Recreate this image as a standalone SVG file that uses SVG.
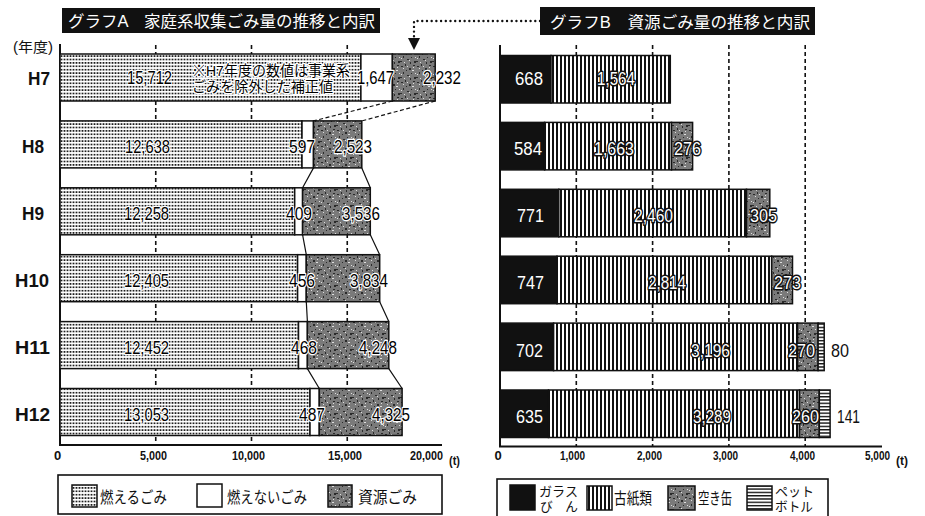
<svg xmlns="http://www.w3.org/2000/svg" width="925" height="516" viewBox="0 0 925 516">
<defs>
<pattern id="dots" width="3" height="3.4" patternUnits="userSpaceOnUse"><rect width="3" height="3.4" fill="#fff"/><rect x="0.6" y="0.9" width="1.8" height="1.6" fill="#111"/></pattern>
<pattern id="grain" width="16" height="16" patternUnits="userSpaceOnUse"><rect width="16" height="16" fill="#7a7a7a"/><g fill="#2a2a2a"><rect x="1" y="2" width="2" height="1"/><rect x="5" y="0" width="1" height="2"/><rect x="9" y="4" width="2" height="2"/><rect x="13" y="1" width="2" height="1"/><rect x="3" y="8" width="1" height="2"/><rect x="7" y="11" width="2" height="1"/><rect x="11" y="9" width="1" height="1"/><rect x="14" y="13" width="2" height="2"/><rect x="0" y="13" width="2" height="1"/><rect x="6" y="6" width="1" height="1"/><rect x="10" y="14" width="1" height="2"/></g><g fill="#dedede"><rect x="3" y="4" width="1" height="1"/><rect x="7" y="2" width="1" height="1"/><rect x="12" y="6" width="2" height="1"/><rect x="1" y="10" width="1" height="1"/><rect x="9" y="12" width="1" height="1"/><rect x="15" y="9" width="1" height="1"/><rect x="4" y="14" width="1" height="1"/><rect x="13" y="3" width="1" height="1"/></g></pattern>
<pattern id="vstripe" width="4" height="4" patternUnits="userSpaceOnUse"><rect width="4" height="4" fill="#fff"/><rect width="2" height="4" fill="#111"/></pattern>
<pattern id="hstripe" width="4" height="3.3" patternUnits="userSpaceOnUse"><rect width="4" height="3.3" fill="#fff"/><rect width="4" height="1.4" fill="#111"/></pattern>
<marker id="arrow" markerWidth="12" markerHeight="12" refX="2" refY="6" orient="auto" markerUnits="userSpaceOnUse" viewBox="0 0 12 12"><path d="M0,0 L12,6 L0,12 Z" fill="#111"/></marker>
</defs>
<style>
text{font-family:"Liberation Sans","Noto Sans CJK JP",sans-serif;}
.bar{stroke:#111;stroke-width:1.5;}
.comb{fill:url(#dots);}
.non{fill:#fff;}
.res{fill:url(#grain);}
.glass{fill:#111;}
.paper{fill:url(#vstripe);}
.pet{fill:url(#hstripe);}
.grid{stroke:#111;stroke-width:1.6;stroke-dasharray:4 3;fill:none;}
.axis{stroke:#111;stroke-width:2;fill:none;}
.link{stroke:#111;stroke-width:1.2;fill:none;}
.lblA{font-size:19px;fill:#000;stroke:#fff;stroke-width:2.5;paint-order:stroke;stroke-linejoin:round;}
.lblB{font-size:18px;fill:#fff;stroke:#111;stroke-width:3;paint-order:stroke;stroke-linejoin:round;}
.plain{font-size:19px;fill:#111;}
.year{font-size:19px;font-weight:bold;fill:#111;}
.tick{font-size:13px;font-weight:bold;fill:#111;}
.unit{font-size:12px;font-weight:bold;fill:#111;}
.title{font-size:16px;fill:#fff;}
.leg{font-size:16px;fill:#111;}
.legs{font-size:13px;fill:#111;}
.note{font-size:14.5px;fill:#000;stroke:#fff;stroke-width:2.5;paint-order:stroke;stroke-linejoin:round;}
</style>
<rect width="925" height="516" fill="#fff"/>

<g id="title-a"><rect x="62" y="8" width="318" height="25" fill="#111"/><text class="title" x="68" y="27" textLength="307" lengthAdjust="spacingAndGlyphs">グラフA　家庭系収集ごみ量の推移と内訳</text></g>
<g id="title-b"><rect x="540" y="7" width="275" height="28" fill="#111"/><text class="title" x="550" y="28" textLength="260" lengthAdjust="spacingAndGlyphs">グラフB　資源ごみ量の推移と内訳</text></g>

<g id="axes-a">
<line class="grid" x1="155.75" y1="45" x2="155.75" y2="445"/>
<line class="grid" x1="251.5" y1="45" x2="251.5" y2="445"/>
<line class="grid" x1="347.25" y1="45" x2="347.25" y2="445"/>
<line class="axis" x1="60" y1="44" x2="60" y2="445"/>
<line class="axis" x1="59" y1="445" x2="442" y2="445"/>
<text class="tick" x="57.5" y="460" text-anchor="middle">0</text>
<text class="tick" x="140" y="460" textLength="27" lengthAdjust="spacingAndGlyphs">5,000</text>
<text class="tick" x="232" y="460" textLength="33" lengthAdjust="spacingAndGlyphs">10,000</text>
<text class="tick" x="328" y="460" textLength="34" lengthAdjust="spacingAndGlyphs">15,000</text>
<text class="tick" x="410" y="460" font-size="11.5" textLength="33" lengthAdjust="spacingAndGlyphs">20,000</text>
<text class="unit" x="449" y="465" textLength="11" lengthAdjust="spacingAndGlyphs">(t)</text>
<text x="13" y="52" font-size="14" fill="#111" textLength="40" lengthAdjust="spacingAndGlyphs">(年度)</text>
</g>

<g id="axes-b">
<line class="grid" x1="576.3" y1="45" x2="576.3" y2="446.5"/>
<line class="grid" x1="652.6" y1="45" x2="652.6" y2="446.5"/>
<line class="grid" x1="728.9" y1="45" x2="728.9" y2="446.5"/>
<line class="grid" x1="805.2" y1="45" x2="805.2" y2="446.5"/>
<line class="axis" x1="500" y1="45" x2="500" y2="446.5"/>
<line class="axis" x1="499" y1="446.5" x2="882" y2="446.5"/>
<text class="tick" x="498" y="460" text-anchor="middle">0</text>
<text class="tick" x="560" y="460" textLength="25" lengthAdjust="spacingAndGlyphs">1,000</text>
<text class="tick" x="637" y="460" textLength="25" lengthAdjust="spacingAndGlyphs">2,000</text>
<text class="tick" x="713" y="460" textLength="25" lengthAdjust="spacingAndGlyphs">3,000</text>
<text class="tick" x="790" y="460" textLength="25" lengthAdjust="spacingAndGlyphs">4,000</text>
<text class="tick" x="865" y="460" textLength="25" lengthAdjust="spacingAndGlyphs">5,000</text>
<text class="unit" x="896" y="465" textLength="12" lengthAdjust="spacingAndGlyphs">(t)</text>
</g>

<g id="connectors">
<path class="link" stroke-dasharray="4 2.5" d="M392.4,101 L313.5,120.9 M435.2,101 L361.8,120.9"/>
<path class="link" d="M313.5,167.9 L302.6,187.8 M361.8,167.9 L370.3,187.8"/>
<path class="link" d="M302.6,234.8 L306.3,254.7 M370.3,234.8 L379.7,254.7"/>
<path class="link" d="M306.3,301.7 L307.4,321.6 M379.7,301.7 L388.8,321.6"/>
<path class="link" d="M307.4,368.6 L319.3,388.5 M388.8,368.6 L402.1,388.5"/>
<path d="M540,21 H414 V40" fill="none" stroke="#111" stroke-width="2.4" stroke-dasharray="0.01 4.7" stroke-linecap="round" marker-end="url(#arrow)"/>
</g>

<g id="a-h7">
<rect class="bar comb" x="60" y="54" width="300.9" height="47"/>
<rect class="bar non" x="360.9" y="54" width="31.5" height="47"/>
<rect class="bar res" x="392.4" y="54" width="42.8" height="47"/>
<text class="year" x="28" y="85" textLength="22" lengthAdjust="spacingAndGlyphs">H7</text>
<text class="lblA" x="127" y="84" textLength="45" lengthAdjust="spacingAndGlyphs">15,712</text>
<text class="note" x="192" y="76" textLength="158" lengthAdjust="spacingAndGlyphs">※H7年度の数値は事業系</text>
<text class="note" x="192" y="92" textLength="141" lengthAdjust="spacingAndGlyphs">ごみを除外した補正値</text>
<text class="lblA" x="357" y="84" textLength="37" lengthAdjust="spacingAndGlyphs">1,647</text>
<text class="lblA" x="423" y="84" textLength="38" lengthAdjust="spacingAndGlyphs">2,232</text>
</g>
<g id="a-h8">
<rect class="bar comb" x="60" y="120.9" width="242" height="47"/>
<rect class="bar non" x="302" y="120.9" width="11.5" height="47"/>
<rect class="bar res" x="313.5" y="120.9" width="48.3" height="47"/>
<text class="year" x="22" y="153" textLength="22" lengthAdjust="spacingAndGlyphs">H8</text>
<text class="lblA" x="125" y="152.5" textLength="45" lengthAdjust="spacingAndGlyphs">12,638</text>
<text class="lblA" x="289" y="152.5" textLength="26" lengthAdjust="spacingAndGlyphs">597</text>
<text class="lblA" x="334" y="152.5" textLength="38" lengthAdjust="spacingAndGlyphs">2,523</text>
</g>
<g id="a-h9">
<rect class="bar comb" x="60" y="187.8" width="234.7" height="47"/>
<rect class="bar non" x="294.7" y="187.8" width="7.9" height="47"/>
<rect class="bar res" x="302.6" y="187.8" width="67.7" height="47"/>
<text class="year" x="22" y="219.5" textLength="22" lengthAdjust="spacingAndGlyphs">H9</text>
<text class="lblA" x="124" y="219.5" textLength="45" lengthAdjust="spacingAndGlyphs">12,258</text>
<text class="lblA" x="286" y="219.5" textLength="26" lengthAdjust="spacingAndGlyphs">409</text>
<text class="lblA" x="342" y="219.5" textLength="38" lengthAdjust="spacingAndGlyphs">3,536</text>
</g>
<g id="a-h10">
<rect class="bar comb" x="60" y="254.7" width="237.6" height="47"/>
<rect class="bar non" x="297.6" y="254.7" width="8.7" height="47"/>
<rect class="bar res" x="306.3" y="254.7" width="73.4" height="47"/>
<text class="year" x="15" y="286.5" textLength="34" lengthAdjust="spacingAndGlyphs">H10</text>
<text class="lblA" x="124" y="286.5" textLength="45" lengthAdjust="spacingAndGlyphs">12,405</text>
<text class="lblA" x="289" y="286.5" textLength="26" lengthAdjust="spacingAndGlyphs">456</text>
<text class="lblA" x="350" y="286.5" textLength="38" lengthAdjust="spacingAndGlyphs">3,834</text>
</g>
<g id="a-h11">
<rect class="bar comb" x="60" y="321.6" width="238.5" height="47"/>
<rect class="bar non" x="298.5" y="321.6" width="8.9" height="47"/>
<rect class="bar res" x="307.4" y="321.6" width="81.4" height="47"/>
<text class="year" x="15" y="353.5" textLength="35" lengthAdjust="spacingAndGlyphs">H11</text>
<text class="lblA" x="124" y="353.5" textLength="45" lengthAdjust="spacingAndGlyphs">12,452</text>
<text class="lblA" x="291" y="353.5" textLength="26" lengthAdjust="spacingAndGlyphs">468</text>
<text class="lblA" x="359" y="353.5" textLength="38" lengthAdjust="spacingAndGlyphs">4,248</text>
</g>
<g id="a-h12">
<rect class="bar comb" x="60" y="388.5" width="250" height="47"/>
<rect class="bar non" x="310" y="388.5" width="9.3" height="47"/>
<rect class="bar res" x="319.3" y="388.5" width="82.8" height="47"/>
<text class="year" x="15" y="420.5" textLength="35" lengthAdjust="spacingAndGlyphs">H12</text>
<text class="lblA" x="124" y="420.5" textLength="45" lengthAdjust="spacingAndGlyphs">13,053</text>
<text class="lblA" x="299" y="420.5" textLength="26" lengthAdjust="spacingAndGlyphs">487</text>
<text class="lblA" x="372" y="420.5" textLength="38" lengthAdjust="spacingAndGlyphs">4,325</text>
</g>

<g id="b-h7">
<rect class="bar glass" x="500" y="55.5" width="51" height="47.5"/>
<rect class="bar paper" x="551" y="55.5" width="119.3" height="47.5"/>
<text class="lblB" x="515" y="85" textLength="28" lengthAdjust="spacingAndGlyphs">668</text>
<text class="lblB" x="597" y="85" textLength="38" lengthAdjust="spacingAndGlyphs">1,564</text>
</g>
<g id="b-h8">
<rect class="bar glass" x="500" y="122.4" width="44.6" height="47.5"/>
<rect class="bar paper" x="544.6" y="122.4" width="126.9" height="47.5"/>
<rect class="bar res" x="671.5" y="122.4" width="21.1" height="47.5"/>
<text class="lblB" x="514" y="155" textLength="28" lengthAdjust="spacingAndGlyphs">584</text>
<text class="lblB" x="594" y="155" textLength="40" lengthAdjust="spacingAndGlyphs">1,663</text>
<text class="lblB" x="674" y="155" textLength="27" lengthAdjust="spacingAndGlyphs">276</text>
</g>
<g id="b-h9">
<rect class="bar glass" x="500" y="189.3" width="58.8" height="47.5"/>
<rect class="bar paper" x="558.8" y="189.3" width="187.7" height="47.5"/>
<rect class="bar res" x="746.5" y="189.3" width="23.3" height="47.5"/>
<text class="lblB" x="517" y="222" textLength="27" lengthAdjust="spacingAndGlyphs">771</text>
<text class="lblB" x="634" y="222" textLength="39" lengthAdjust="spacingAndGlyphs">2,460</text>
<text class="lblB" x="750" y="222" textLength="27" lengthAdjust="spacingAndGlyphs">305</text>
</g>
<g id="b-h10">
<rect class="bar glass" x="500" y="256.2" width="57" height="47.5"/>
<rect class="bar paper" x="557" y="256.2" width="214.7" height="47.5"/>
<rect class="bar res" x="771.7" y="256.2" width="20.8" height="47.5"/>
<text class="lblB" x="517" y="289" textLength="27" lengthAdjust="spacingAndGlyphs">747</text>
<text class="lblB" x="648" y="289" textLength="38" lengthAdjust="spacingAndGlyphs">2,814</text>
<text class="lblB" x="774" y="289" textLength="27" lengthAdjust="spacingAndGlyphs">273</text>
</g>
<g id="b-h11">
<rect class="bar glass" x="500" y="323.1" width="53.6" height="47.5"/>
<rect class="bar paper" x="553.6" y="323.1" width="243.9" height="47.5"/>
<rect class="bar res" x="797.5" y="323.1" width="20.6" height="47.5"/>
<rect class="bar pet" x="818.1" y="323.1" width="6.1" height="47.5"/>
<text class="lblB" x="516" y="357" textLength="27" lengthAdjust="spacingAndGlyphs">702</text>
<text class="lblB" x="691" y="357" textLength="39" lengthAdjust="spacingAndGlyphs">3,196</text>
<text class="lblB" x="788" y="357" textLength="27" lengthAdjust="spacingAndGlyphs">270</text>
<text class="plain" x="831" y="357" textLength="18" lengthAdjust="spacingAndGlyphs">80</text>
</g>
<g id="b-h12">
<rect class="bar glass" x="500" y="390" width="48.5" height="47.5"/>
<rect class="bar paper" x="548.5" y="390" width="251" height="47.5"/>
<rect class="bar res" x="799.5" y="390" width="19.8" height="47.5"/>
<rect class="bar pet" x="819.3" y="390" width="10.8" height="47.5"/>
<text class="lblB" x="516" y="423" textLength="27" lengthAdjust="spacingAndGlyphs">635</text>
<text class="lblB" x="693" y="423" textLength="38" lengthAdjust="spacingAndGlyphs">3,289</text>
<text class="lblB" x="792" y="423" textLength="27" lengthAdjust="spacingAndGlyphs">260</text>
<text class="plain" x="837" y="423" textLength="23" lengthAdjust="spacingAndGlyphs">141</text>
</g>

<g id="legend-a">
<rect x="58" y="475" width="384" height="39" fill="#fff" stroke="#111" stroke-width="1.6"/>
<rect class="bar comb" x="72" y="485" width="25" height="22"/>
<text class="leg" x="100" y="503" textLength="67" lengthAdjust="spacingAndGlyphs">燃えるごみ</text>
<rect class="bar non" x="197" y="484" width="25" height="23"/>
<text class="leg" x="227" y="503" textLength="80" lengthAdjust="spacingAndGlyphs">燃えないごみ</text>
<rect class="bar res" x="328" y="485" width="24" height="22"/>
<text class="leg" x="358" y="503" textLength="59" lengthAdjust="spacingAndGlyphs">資源ごみ</text>
</g>
<g id="legend-b">
<rect x="497" y="479" width="331" height="42" fill="#fff" stroke="#111" stroke-width="1.6"/>
<rect class="bar glass" x="510" y="485" width="25" height="25"/>
<text class="legs" x="539" y="496" textLength="39" lengthAdjust="spacingAndGlyphs">ガラス</text>
<text class="legs" x="540" y="511" textLength="38" lengthAdjust="spacingAndGlyphs">び　ん</text>
<rect class="bar paper" x="587" y="486" width="25" height="24"/>
<text class="leg" x="614" y="504" textLength="38" lengthAdjust="spacingAndGlyphs">古紙類</text>
<rect class="bar res" x="668" y="486" width="27" height="24"/>
<text class="leg" x="698" y="504" textLength="34" lengthAdjust="spacingAndGlyphs">空き缶</text>
<rect class="bar pet" x="747" y="486" width="25" height="24"/>
<text class="legs" x="775" y="496">ペット</text>
<text class="legs" x="775" y="511" textLength="38" lengthAdjust="spacingAndGlyphs">ボトル</text>
</g>
</svg>
